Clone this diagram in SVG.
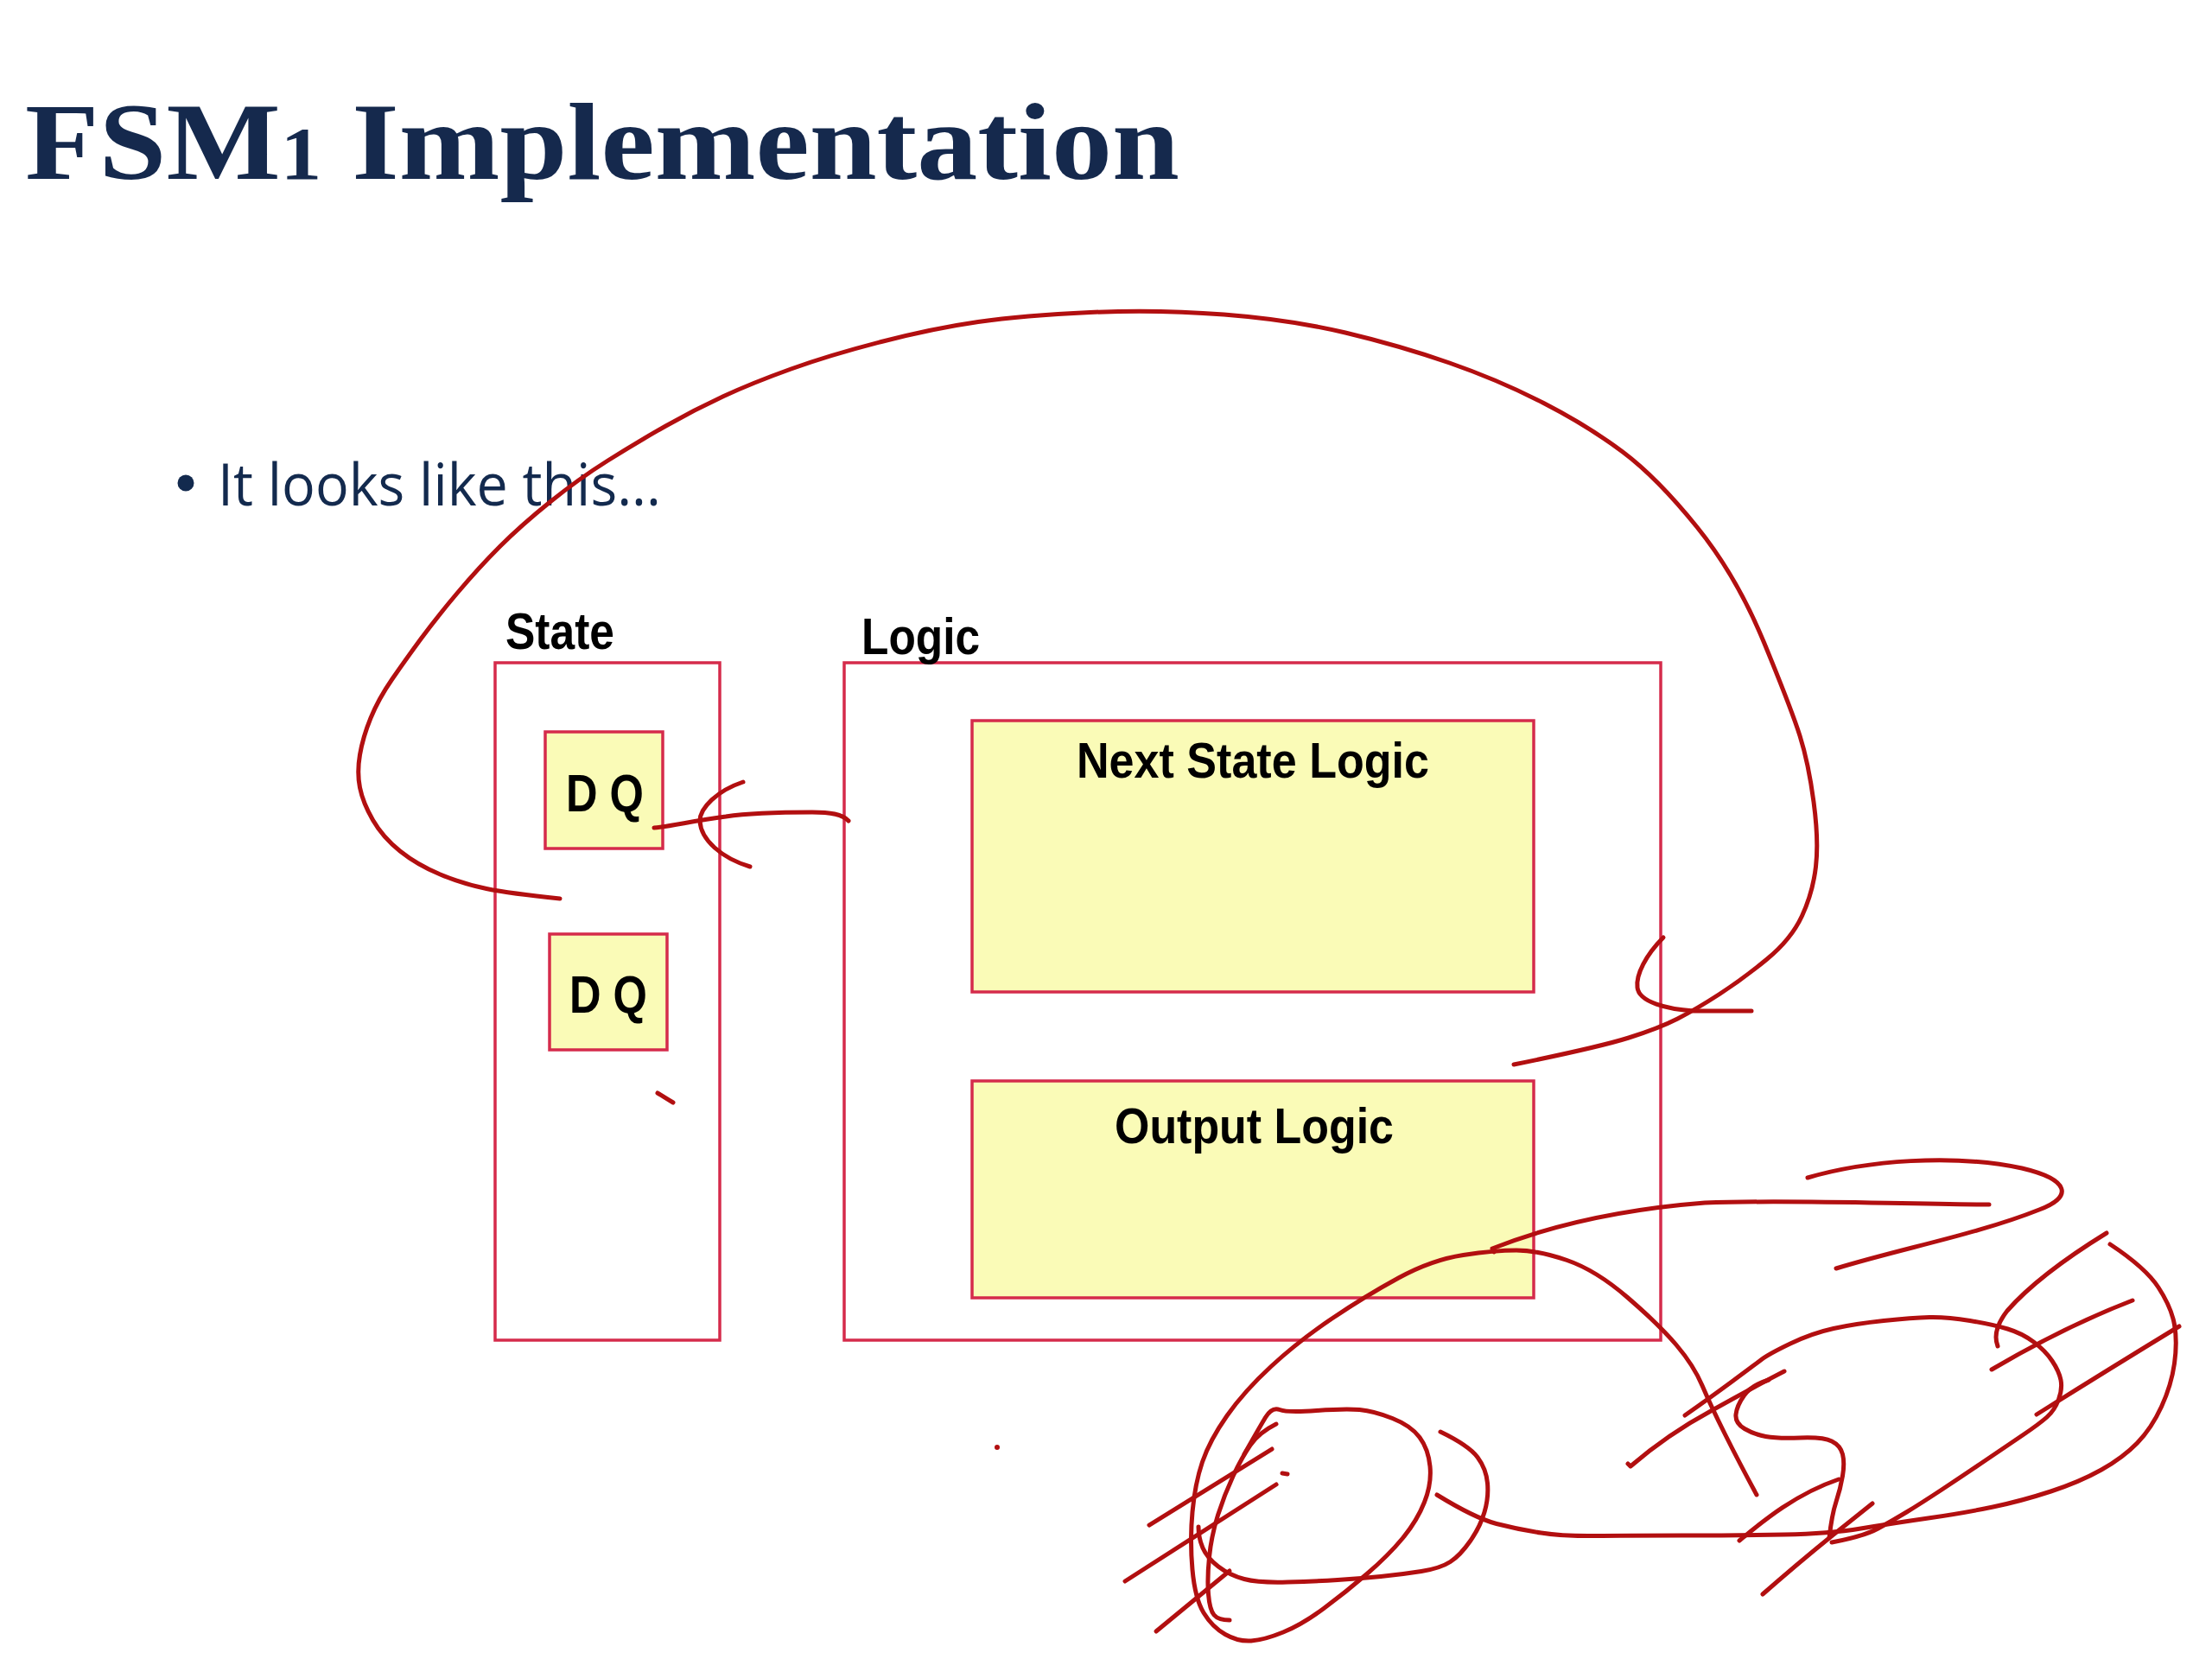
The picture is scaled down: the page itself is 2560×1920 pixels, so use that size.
<svg xmlns="http://www.w3.org/2000/svg" width="2560" height="1920" viewBox="0 0 2560 1920">
<style>
.box{fill:#ffffff;stroke:#d52b4b;stroke-width:3.5}
.ybox{fill:#fafbb7;stroke:#d52b4b;stroke-width:3.5}
.lbl{font-family:"Liberation Sans",Arial,sans-serif;font-weight:bold;fill:#000000}
.ink{fill:none;stroke:#b20f10;stroke-width:5;stroke-linecap:round;stroke-linejoin:round}
</style>
<rect width="2560" height="1920" fill="#ffffff"/>
<g id="title">
<text x="29" y="207" font-family="'Liberation Serif','Times New Roman',serif" font-weight="bold" font-size="127" fill="#15294d" textLength="1336" lengthAdjust="spacingAndGlyphs">FSM<tspan font-size="86">1</tspan> Implementation</text>
</g>
<g id="bullet">
<circle cx="215" cy="559" r="9.5" fill="#132a4e"/>
<text x="252" y="585" font-family="'Open Sans','Liberation Sans',sans-serif" font-size="67" fill="#132a4e" textLength="513" lengthAdjust="spacingAndGlyphs">It looks like this...</text>
</g>
<g id="state">
<rect class="box" x="573" y="767" width="260" height="784"/>
<text class="lbl" x="585" y="751" font-size="60" textLength="126" lengthAdjust="spacingAndGlyphs">State</text>
</g>
<g id="dq1">
<rect class="ybox" x="631" y="847" width="136" height="135"/>
<text class="lbl" x="655" y="939" font-size="62" textLength="90" lengthAdjust="spacingAndGlyphs">D Q</text>
</g>
<g id="dq2">
<rect class="ybox" x="636" y="1081" width="136" height="134"/>
<text class="lbl" x="659" y="1172" font-size="62" textLength="90" lengthAdjust="spacingAndGlyphs">D Q</text>
</g>
<g id="logic">
<rect class="box" x="977" y="767" width="945" height="784"/>
<text class="lbl" x="997" y="757" font-size="60" textLength="137" lengthAdjust="spacingAndGlyphs">Logic</text>
</g>
<g id="next-state-logic">
<rect class="ybox" x="1125" y="834" width="650" height="314"/>
<text class="lbl" x="1246" y="900" font-size="58" textLength="408" lengthAdjust="spacingAndGlyphs">Next State Logic</text>
</g>
<g id="output-logic">
<rect class="ybox" x="1125" y="1251" width="650" height="251"/>
<text class="lbl" x="1290" y="1323" font-size="58" textLength="323" lengthAdjust="spacingAndGlyphs">Output Logic</text>
</g>
<g id="connectors">
<path class="ink" d="M648,1040 Q590,1034 563,1028.5 Q536,1023 509.5,1012 Q483,1001 463,985 Q443,969 431.5,949 Q420,929 416.5,911.5 Q413,894 416.5,873.5 Q420,853 429,831 Q438,809 453.5,786.5 Q469,764 487,739.5 Q505,715 529.5,686 Q554,657 578.5,632.5 Q603,608 636.5,581 Q670,554 703.5,533 Q737,512 770.5,493 Q804,474 837.5,458.5 Q871,443 915.5,427 Q960,411 1020,395.5 Q1080,380 1132,372.5 Q1184,365 1261.5,361.5 Q1339,358 1416.5,364 Q1494,370 1557,385 Q1620,400 1677.5,420 Q1735,440 1786.5,466.5 Q1838,493 1878,523 Q1918,553 1964,610 Q2010,667 2041.5,743.5 Q2073,820 2083,851.5 Q2093,883 2099,928 Q2105,973 2101.5,1003 Q2098,1033 2085.5,1060 Q2073,1087 2045,1110 Q2017,1133 1990,1150.5 Q1963,1168 1941.5,1179 Q1920,1190 1885,1201 Q1850,1212 1752,1232"/>
<path class="ink" d="M1925,1085 C1905,1105 1893,1128 1895,1143 C1897,1160 1930,1168 1960,1170 L2027,1170"/>
<path class="ink" d="M982,950 C975,942 960,940 940,940 C900,940 860,942 840,945 C800,950 780,956 757,958"/>
<path class="ink" d="M860,905 C830,915 810,935 810,950 C811,972 835,993 868,1003"/>
<path class="ink" d="M761,1265 L779,1276"/>
<circle cx="1154" cy="1675" r="3" fill="#b20f10"/>
<path class="ink" d="M1729,1449 L1727,1445 C1790,1420 1870,1400 1973,1392 C2080,1388 2200,1394 2302,1394"/>
<path class="ink" d="M2092,1363 C2160,1343 2260,1335 2340,1352 C2395,1365 2400,1385 2360,1400 C2290,1428 2200,1445 2125,1468"/>
<path class="ink" d="M2033,1730 Q2013,1693 1996.5,1660 Q1980,1627 1970,1603.5 Q1960,1580 1940,1556.5 Q1920,1533 1883.5,1501.5 Q1847,1470 1813.5,1458.5 Q1780,1447 1755,1447 Q1730,1447 1693.5,1452.5 Q1657,1458 1618.5,1479 Q1580,1500 1541.5,1526 Q1503,1552 1471.5,1581 Q1440,1610 1420,1638.5 Q1400,1667 1391.5,1692 Q1383,1717 1380,1750 Q1377,1783 1380,1816.5 Q1383,1850 1393,1866.5 Q1403,1883 1418,1891.5 Q1433,1900 1448,1899 Q1463,1898 1485,1889 Q1507,1880 1532,1861.5 Q1557,1843 1582,1821.5 Q1607,1800 1623.5,1780 Q1640,1760 1648.5,1738.5 Q1657,1717 1655,1697 Q1653,1677 1643,1663.5 Q1633,1650 1611.5,1641.5 Q1590,1633 1573.5,1631.5 Q1557,1630 1523.5,1632.5 Q1490,1635 1481,1631.5 Q1472,1628 1464.5,1640.5 Q1457,1653 1440,1683"/>
<path class="ink" d="M1477,1648 Q1457,1658 1447,1672.5 Q1437,1687 1427,1708.5 Q1417,1730 1409.5,1753.5 Q1402,1777 1399.5,1802 Q1397,1827 1398.5,1845 Q1400,1863 1405,1869 Q1410,1875 1423,1875"/>
<path class="ink" d="M1667,1657 Q1700,1673 1710,1686.5 Q1720,1700 1721.5,1716.5 Q1723,1733 1718,1750 Q1713,1767 1701.5,1783.5 Q1690,1800 1678.5,1807.5 Q1667,1815 1645,1818.5 Q1623,1822 1598,1824.5 Q1573,1827 1548,1828.5 Q1523,1830 1490,1831 Q1457,1832 1440,1827.5 Q1423,1823 1410,1813 Q1397,1803 1392,1791.5 Q1387,1780 1387,1767"/>
<path class="ink" d="M1663,1730 Q1707,1757 1732,1763.5 Q1757,1770 1783.5,1774 Q1810,1778 1845,1777.5 Q1880,1777 1946.5,1777 Q2013,1777 2065,1776 Q2117,1775 2153.5,1769 Q2190,1763 2231.5,1757 Q2273,1751 2306.5,1744 Q2340,1737 2373.5,1726 Q2407,1715 2432,1701 Q2457,1687 2473.5,1670 Q2490,1653 2501.5,1628 Q2513,1603 2516.5,1578 Q2520,1553 2516.5,1533 Q2513,1513 2498,1490 Q2483,1467 2442,1440"/>
<path class="ink" d="M1950,1638 Q1980,1617 2005,1598.5 Q2030,1580 2038.5,1573.5 Q2047,1567 2072,1555 Q2097,1543 2122,1537.5 Q2147,1532 2180,1528.5 Q2213,1525 2233,1524.5 Q2253,1524 2280,1528.5 Q2307,1533 2323.5,1538 Q2340,1543 2353.5,1553 Q2367,1563 2375,1575 Q2383,1587 2385,1597 Q2387,1607 2382.5,1619.5 Q2378,1632 2369,1640 Q2360,1648 2341.5,1660.5 Q2323,1673 2298,1690 Q2273,1707 2248,1723.5 Q2223,1740 2206.5,1750 Q2190,1760 2173.5,1769 Q2157,1778 2120,1785"/>
<path class="ink" d="M1884,1694 L1887,1697 Q1930,1660 1980,1633 Q2030,1605 2065,1587"/>
<path class="ink" d="M2047,1597 Q2027,1603 2018.5,1615 Q2010,1627 2009,1637 Q2008,1647 2019,1653.5 Q2030,1660 2043.5,1662.5 Q2057,1665 2083.5,1664 Q2110,1663 2120,1668 Q2130,1673 2132.5,1683 Q2135,1693 2132.5,1708 Q2130,1723 2125,1738 Q2120,1753 2117,1780"/>
<path class="ink" d="M2013,1783 C2035,1765 2075,1730 2128,1712"/>
<path class="ink" d="M2040,1845 Q2080,1810 2117,1780 L2167,1740"/>
<path class="ink" d="M2438,1427 Q2360,1475 2323,1517 Q2305,1540 2312,1558"/>
<path class="ink" d="M2468,1505 Q2390,1535 2305,1585"/>
<path class="ink" d="M2522,1535 Q2440,1585 2365,1632 L2357,1637"/>
<path class="ink" d="M1330,1765 L1472,1677"/>
<path class="ink" d="M1302,1830 L1477,1718"/>
<path class="ink" d="M1338,1888 L1423,1818"/>
<path class="ink" d="M1484,1705 L1490,1706"/>
</g>
</svg>
